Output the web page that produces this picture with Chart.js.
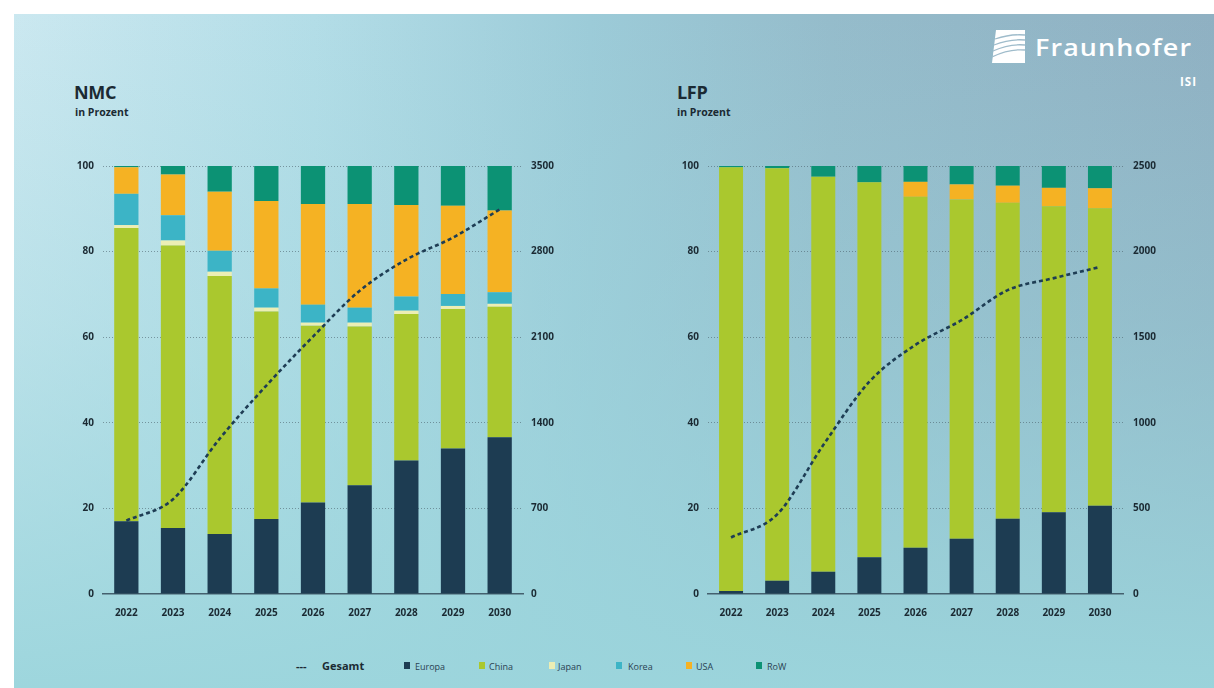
<!DOCTYPE html>
<html lang="de">
<head>
<meta charset="utf-8">
<title>Zellproduktion NMC / LFP</title>
<script src="https://cdn.jsdelivr.net/npm/chart.js@4.4.1/dist/chart.umd.min.js"></script>
<style>
  html, body { margin: 0; padding: 0; background: #fff; }
  body { width: 1214px; height: 688px; position: relative; overflow: hidden; font-family: 'Open Sans', 'DejaVu Sans', sans-serif; }
  .panel {
    position: absolute; left: 14px; top: 14px; right: 0; bottom: 0;
    background:
      linear-gradient(to bottom, rgba(155,213,220,0) 0%, rgba(155,213,220,0.35) 45%, rgba(155,213,220,0.95) 100%),
      linear-gradient(to right, #cbe8f0 0%, #b3dde7 25%, #9ccbd8 48%, #95bccb 68%, #8fb0c2 100%);
  }
  .title { position: absolute; font-weight: 700; font-size: 18px; color: #1b2a33; letter-spacing: -0.3px; }
  .sub   { position: absolute; font-weight: 700; font-size: 10.5px; color: #1b2a33; }
  .chart { position: absolute; width: 530px; height: 470px; }
  .logo  { position: absolute; left: 992px; top: 30px; color: #fff; }
  .logo .word {
    position: absolute; left: 43px; top: 0px; font-size: 24px; font-weight: 600;
    letter-spacing: 1px; white-space: nowrap; transform: scaleX(1.12); transform-origin: left top;
  }
  .logo .isi  { position: absolute; left: 188px; top: 44px; font-size: 11.5px; font-weight: 700; letter-spacing: 1px; }
  .legend { position: absolute; top: 659px; left: 0; width: 1214px; height: 16px; font-size: 9px; color: #2a4252; }
  .legend span { position: absolute; top: 1px; white-space: nowrap; }
  .legend .sw { width: 6px; height: 7px; top: 3px; }
  .legend .gesamt { font-weight: 700; font-size: 11px; top: -1px; color: #1b2a33; }
</style>
</head>
<body>
<div class="panel"></div>

<div class="title" style="left:74px;top:80px">NMC</div>
<div class="sub" style="left:75px;top:105px">in Prozent</div>
<div class="title" style="left:677px;top:80px">LFP</div>
<div class="sub" style="left:677px;top:105px">in Prozent</div>

<div class="logo">
  <svg width="33" height="33" viewBox="0 0 33 33" style="position:absolute;left:0;top:0">
    <path d="M4 0 H33 V33 H0 Z" fill="#ffffff"/>
    <path d="M3 9 C12 6 22 4 33 5" stroke="#9fbccb" stroke-width="1.3" fill="none"/>
    <path d="M2 15 C12 11 22 9 33 10" stroke="#9fbccb" stroke-width="1.3" fill="none"/>
    <path d="M1 21 C12 16 22 14 33 15" stroke="#9fbccb" stroke-width="1.3" fill="none"/>
    <path d="M0 27 C12 21 22 19 33 20" stroke="#9fbccb" stroke-width="1.3" fill="none"/>
  </svg>
  <div class="word">Fraunhofer</div>
  <div class="isi">ISI</div>
</div>

<canvas id="nmcChart" class="chart" style="left:50px;top:150px"></canvas>
<canvas id="lfpChart" class="chart" style="left:655px;top:150px"></canvas>

<div class="legend">
  <span class="gesamt" style="left:296px">---</span>
  <span class="gesamt" style="left:322px">Gesamt</span>
  <span class="sw" style="left:404px;background:#1d3c52"></span><span style="left:415px">Europa</span>
  <span class="sw" style="left:479px;background:#aac82e"></span><span style="left:489px">China</span>
  <span class="sw" style="left:549px;background:#eceeb4"></span><span style="left:558px">Japan</span>
  <span class="sw" style="left:616px;background:#3cb4c6"></span><span style="left:628px">Korea</span>
  <span class="sw" style="left:686px;background:#f5b223"></span><span style="left:696px">USA</span>
  <span class="sw" style="left:756px;background:#0c9274"></span><span style="left:767px">RoW</span>
</div>

<script>
// ---- data -------------------------------------------------------------
const YEARS = ['2022', '2023', '2024', '2025', '2026', '2027', '2028', '2029', '2030'];

// NMC shares by region, percent
const NMC_EUROPA = [17.0, 15.4, 14.0, 17.5, 21.4, 25.4, 31.2, 34.0, 36.6];
const NMC_CHINA  = [68.5, 66.0, 60.3, 48.5, 41.3, 37.1, 34.2, 32.6, 30.5];
const NMC_JAPAN  = [0.7, 1.2, 1.0, 0.9, 0.7, 0.9, 0.8, 0.7, 0.7];
const NMC_KOREA  = [7.3, 5.9, 4.9, 4.5, 4.2, 3.5, 3.3, 2.8, 2.7];
const NMC_USA    = [6.2, 9.5, 13.8, 20.4, 23.5, 24.2, 21.4, 20.6, 19.1];
const NMC_ROW    = [0.3, 2.0, 6.0, 8.2, 8.9, 8.9, 9.1, 9.3, 10.4];
const NMC_TOTAL  = [600, 775, 1270, 1705, 2105, 2480, 2735, 2915, 3145];

// LFP shares by region, percent
const LFP_EUROPA = [0.7, 3.1, 5.2, 8.6, 10.8, 12.9, 17.6, 19.1, 20.6];
const LFP_CHINA  = [99.0, 96.4, 92.3, 87.6, 82.0, 79.3, 73.8, 71.5, 69.5];
const LFP_JAPAN  = [0, 0, 0, 0, 0, 0, 0, 0, 0];
const LFP_KOREA  = [0, 0, 0, 0, 0, 0, 0, 0, 0];
const LFP_USA    = [0, 0, 0, 0, 3.5, 3.5, 4.0, 4.3, 4.7];
const LFP_ROW    = [0.3, 0.5, 2.5, 3.8, 3.7, 4.3, 4.6, 5.1, 5.2];
const LFP_TOTAL  = [330, 465, 870, 1240, 1455, 1600, 1775, 1845, 1910];

const NMC_RIGHT = { max: 3500, step: 700 };
const LFP_RIGHT = { max: 2500, step: 500 };

// ---- styling ----------------------------------------------------------
const COLORS = {
  europa: '#1d3c52',
  china:  '#aac82e',
  japan:  '#eceeb4',
  korea:  '#3cb4c6',
  usa:    '#f5b223',
  row:    '#0c9274',
  line:   '#1e3d54',
};
const TICK_FONT = { family: "'Open Sans', 'DejaVu Sans', sans-serif", size: 10, weight: '700' };
const TICK_COLOR = '#1b2a33';

function bar(label, data, color) {
  return {
    type: 'bar', label, data,
    backgroundColor: color,
    borderWidth: 0,
    stack: 'share',
    yAxisID: 'y',
    order: 1,
    barPercentage: 0.52,
    categoryPercentage: 1,
  };
}

function buildChart(id, s, right, rightWidth, rightPad) {
  const ctx = document.getElementById(id).getContext('2d');
  return new Chart(ctx, {
    data: {
      labels: YEARS,
      datasets: [
        {
          type: 'line', label: 'Gesamt', data: s.total,
          yAxisID: 'y2', order: 0,
          borderColor: COLORS.line, borderWidth: 2.6, borderDash: [4, 3],
          pointRadius: 0, tension: 0.25, cubicInterpolationMode: 'monotone', fill: false,
        },
        bar('Europa', s.europa, COLORS.europa),
        bar('China',  s.china,  COLORS.china),
        bar('Japan',  s.japan,  COLORS.japan),
        bar('Korea',  s.korea,  COLORS.korea),
        bar('USA',    s.usa,    COLORS.usa),
        bar('RoW',    s.row,    COLORS.row),
      ]
    },
    options: {
      responsive: false,
      animation: false,
      layout: { padding: { top: 16, left: 0, right: 0, bottom: 0 } },
      plugins: { legend: { display: false }, tooltip: { enabled: false } },
      scales: {
        x: {
          stacked: true,
          grid: { display: false },
          border: { display: true, color: '#44606e', width: 1.5 },
          ticks: { color: TICK_COLOR, font: TICK_FONT, padding: 5, maxRotation: 0 },
          afterFit: sc => { sc.height = 26; },
        },
        y: {
          stacked: true, position: 'left',
          min: 0, max: 100,
          ticks: { stepSize: 20, color: TICK_COLOR, font: TICK_FONT, padding: 9 },
          grid: {
            drawTicks: false,
            color: ctx => ctx.tick.value === 0 ? 'rgba(0,0,0,0)' : 'rgba(70,90,100,0.55)',
            lineWidth: 1,
          },
          // dotted gridlines
          border: { display: false, dash: [1, 2] },
          afterFit: sc => { sc.width = 53; },
        },
        y2: {
          position: 'right',
          min: 0, max: right.max,
          ticks: {
            stepSize: right.step, color: TICK_COLOR, font: TICK_FONT, padding: rightPad,
            callback: v => String(v),
          },
          grid: { display: false, drawTicks: false },
          border: { display: false },
          afterFit: sc => { sc.width = rightWidth; },
        },
      }
    }
  });
}

document.addEventListener('DOMContentLoaded', () => {
  for (const c of document.querySelectorAll('canvas.chart')) { c.width = 530; c.height = 470; }
  buildChart('nmcChart', {
    europa: NMC_EUROPA, china: NMC_CHINA, japan: NMC_JAPAN, korea: NMC_KOREA,
    usa: NMC_USA, row: NMC_ROW, total: NMC_TOTAL,
  }, NMC_RIGHT, 57, 8);
  buildChart('lfpChart', {
    europa: LFP_EUROPA, china: LFP_CHINA, japan: LFP_JAPAN, korea: LFP_KOREA,
    usa: LFP_USA, row: LFP_ROW, total: LFP_TOTAL,
  }, LFP_RIGHT, 62, 10);
});
</script>
</body>
</html>
